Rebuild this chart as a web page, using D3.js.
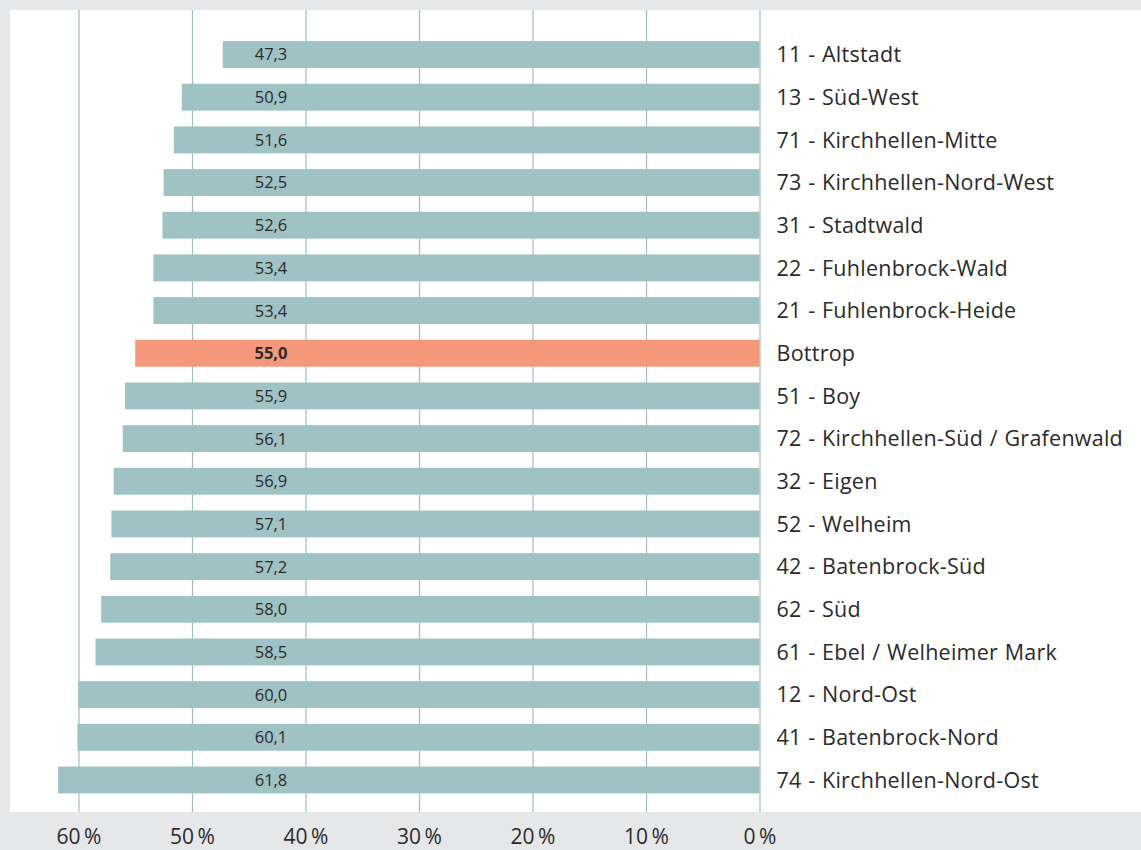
<!DOCTYPE html>
<html>
<head>
<meta charset="utf-8">
<script src="https://cdn.jsdelivr.net/npm/d3@7"></script>
<style>
  body { margin: 0; background: #e6e7e9; }
  svg { display: block; font-family: "Open Sans", "Noto Sans", sans-serif; }
</style>
</head>
<body>
<div id="chart"></div>
<script>
var districts = ["11 - Altstadt", "13 - Süd-West", "71 - Kirchhellen-Mitte", "73 - Kirchhellen-Nord-West",
  "31 - Stadtwald", "22 - Fuhlenbrock-Wald", "21 - Fuhlenbrock-Heide", "Bottrop", "51 - Boy",
  "72 - Kirchhellen-Süd / Grafenwald", "32 - Eigen", "52 - Welheim", "42 - Batenbrock-Süd", "62 - Süd",
  "61 - Ebel / Welheimer Mark", "12 - Nord-Ost", "41 - Batenbrock-Nord", "74 - Kirchhellen-Nord-Ost"];
var shares = [47.3, 50.9, 51.6, 52.5, 52.6, 53.4, 53.4, 55.0, 55.9, 56.1, 56.9, 57.1, 57.2, 58.0, 58.5, 60.0, 60.1, 61.8];
var tickValues = [60, 50, 40, 30, 20, 10, 0];
var highlight = "Bottrop";

var width = 1141, height = 850;
var panel = {x: 10, y: 10, w: 1131, h: 802};

var data = districts.map(function(d, i) { return {name: d, value: shares[i]}; });

var svg = d3.select("#chart").append("svg").attr("width", width).attr("height", height);
svg.append("rect").attr("width", width).attr("height", height).attr("fill", "#e6e7e9");
svg.append("rect").attr("x", panel.x).attr("y", panel.y).attr("width", panel.w).attr("height", panel.h).attr("fill", "#fff");

// 0 % sits on the right, bars grow to the left
var x = d3.scaleLinear().domain([0, 60]).range([759.5, 78.5]);
var y = d3.scaleBand().domain(districts).range([33.2, 801.3]).paddingInner(0.37).paddingOuter(0.185);

var fmt = d3.formatLocale({decimal: ",", thousands: ".", grouping: [3], currency: ["", " €"]}).format(".1f");

// gridlines
svg.append("g")
  .attr("transform", "translate(0," + panel.y + ")")
  .call(d3.axisBottom(x).tickValues(tickValues).tickSize(panel.h).tickFormat(""))
  .call(function(g) {
    g.select(".domain").remove();
    g.selectAll(".tick line").attr("stroke", "#9dbfc1").attr("stroke-width", 1.2);
  });

// bars
svg.append("g").selectAll("rect").data(data).enter().append("rect")
  .attr("x", function(d) { return x(d.value); })
  .attr("y", function(d) { return y(d.name); })
  .attr("width", function(d) { return x(0) - x(d.value); })
  .attr("height", y.bandwidth())
  .attr("fill", function(d) { return d.name === highlight ? "#f5977a" : "#9fc2c4"; });

// value labels
svg.append("g").selectAll("text").data(data).enter().append("text")
  .attr("x", 271)
  .attr("y", function(d) { return y(d.name) + y.bandwidth() / 2; })
  .attr("dy", "0.36em")
  .attr("text-anchor", "middle")
  .attr("font-size", 16.5)
  .attr("font-weight", function(d) { return d.name === highlight ? "bold" : "normal"; })
  .attr("fill", "#2b2b2b")
  .text(function(d) { return fmt(d.value); });

// district labels
svg.append("g").selectAll("text").data(data).enter().append("text")
  .attr("x", x(0) + 17)
  .attr("y", function(d) { return y(d.name) + y.bandwidth() / 2; })
  .attr("dy", "0.36em")
  .attr("font-size", 21.5)
  .attr("word-spacing", 0.8)
  .attr("letter-spacing", 0.25)
  .attr("fill", "#2b2b2b")
  .text(function(d) { return d.name; });

// x axis labels
svg.append("g")
  .attr("transform", "translate(0,826)")
  .call(d3.axisBottom(x).tickValues(tickValues).tickSize(0).tickFormat(function(d) { return d + "\u2009%"; }))
  .call(function(g) {
    g.select(".domain").remove();
    g.selectAll(".tick text").attr("font-size", 21).attr("fill", "#2b2b2b")
      .attr("font-family", "'Open Sans', 'Noto Sans', sans-serif");
  });
</script>
</body>
</html>
